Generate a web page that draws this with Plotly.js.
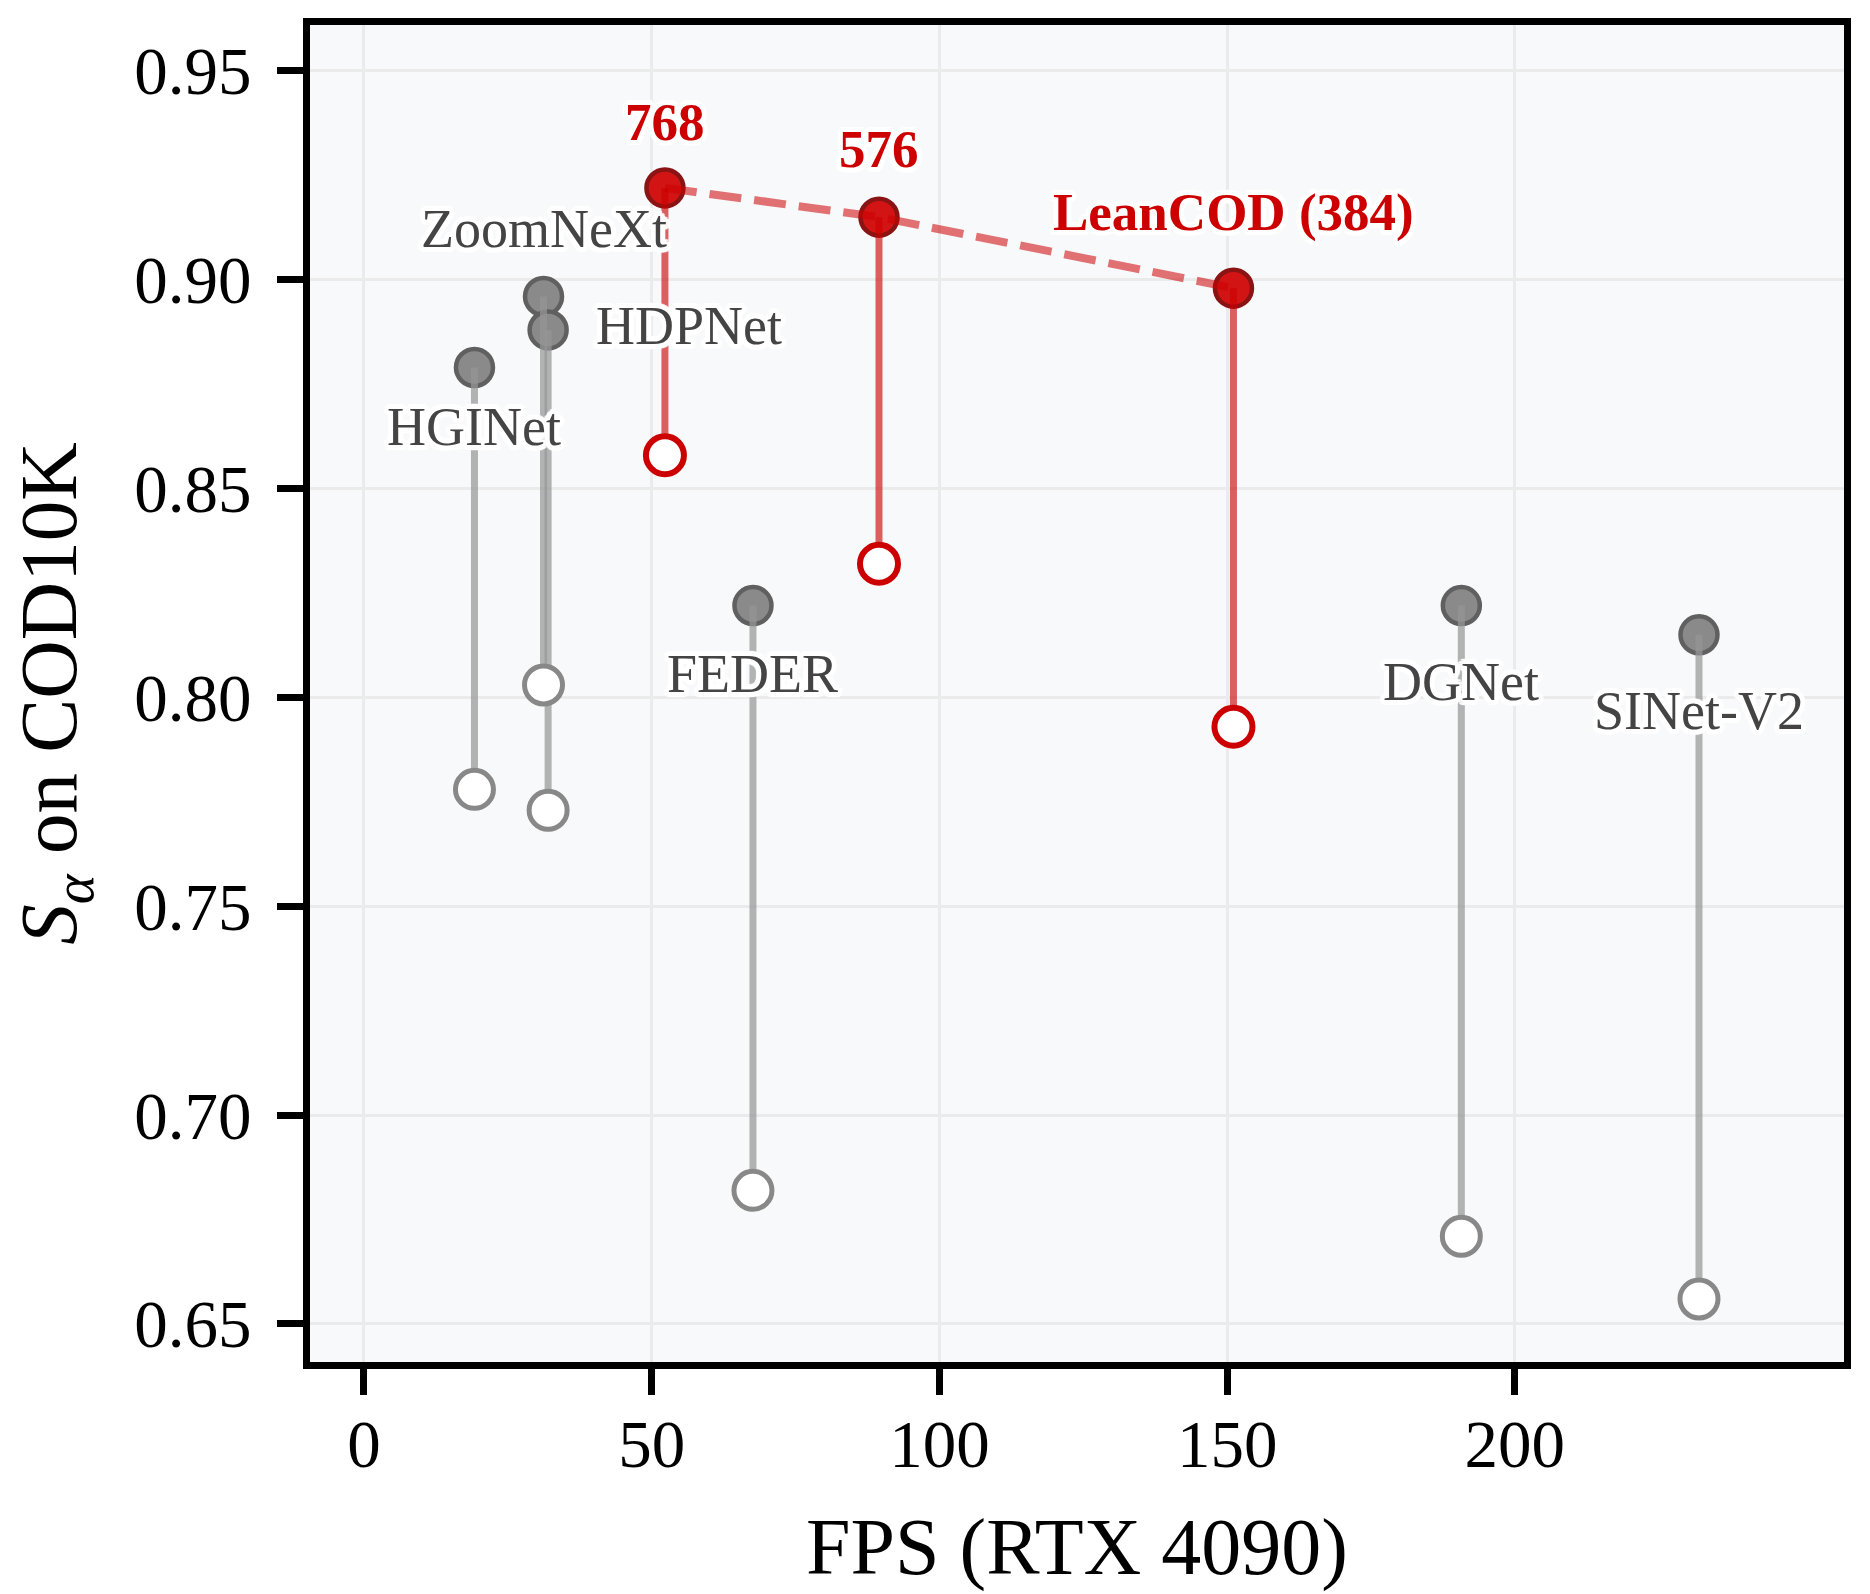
<!DOCTYPE html>
<html>
<head>
<meta charset="utf-8">
<script src="https://cdn.plot.ly/plotly-3.0.1.min.js"></script>
<style>
  html, body { margin: 0; padding: 0; background: #fff; }
  #chart { width: 1870px; height: 1594px; }
</style>
</head>
<body>
<div id="chart"></div>
<script>
// other methods: FPS and the two S-alpha scores (filled = high, hollow = low)
const methods = ["HGINet", "ZoomNeXt", "HDPNet", "FEDER", "DGNet", "SINet-V2"];
const methodFps = [19.2, 31.2, 32.0, 67.6, 190.7, 232.0];
const methodHigh = [0.879, 0.896, 0.888, 0.822, 0.822, 0.815];
const methodLow = [0.778, 0.803, 0.773, 0.682, 0.671, 0.656];

// LeanCOD at three input resolutions
const oursRes = ["768", "576", "384"];
const oursFps = [52.3, 89.5, 151.1];
const oursHigh = [0.922, 0.915, 0.898];
const oursLow = [0.858, 0.832, 0.793];

const xTicks = [0, 50, 100, 150, 200];
const yTicks = [0.65, 0.70, 0.75, 0.80, 0.85, 0.90, 0.95];

// label placement in pixels relative to the filled marker
const labelPos = {
  "HGINet": {dx: 0, dy: -59, anchor: "center"},
  "ZoomNeXt": {dx: 0, dy: 67, anchor: "center"},
  "HDPNet": {dx: 46, dy: 4, anchor: "left"},
  "FEDER": {dx: 0, dy: -68, anchor: "center"},
  "DGNet": {dx: 0, dy: -76, anchor: "center"},
  "SINet-V2": {dx: 0, dy: -76, anchor: "center"},
  "768": {dx: 0, dy: 66, anchor: "center"},
  "576": {dx: 0, dy: 68, anchor: "center"},
  "384": {dx: 0, dy: 76, anchor: "center"}
};

const FONT = "Liberation Serif, Times New Roman, serif";
const RED = "#cc0000";

// white halo round the labels
let halo = [];
for (let i = 0; i < 16; i++) {
  let a = i * Math.PI / 8;
  halo.push((5 * Math.cos(a)).toFixed(1) + "px " + (5 * Math.sin(a)).toFixed(1) + "px 1px #fff");
}
halo = halo.join(", ");

function stems(xs, lo, hi) {
  let x = [], y = [];
  for (let i = 0; i < xs.length; i++) {
    x.push(xs[i], xs[i], null);
    y.push(lo[i], hi[i], null);
  }
  return {x: x, y: y};
}

const grayStems = stems(methodFps, methodLow, methodHigh);
const redStems = stems(oursFps, oursLow, oursHigh);

let traces = [
  {
    x: methodFps, y: methodHigh, type: "scatter", mode: "markers",
    marker: {size: 37, color: "#8a8a8a", line: {color: "#606060", width: 4.5}},
    hoverinfo: "skip"
  },
  {
    x: oursFps, y: oursHigh, type: "scatter", mode: "markers",
    marker: {size: 37, color: "#d31414", line: {color: "#8a1414", width: 4.5}},
    hoverinfo: "skip"
  },
  {
    x: grayStems.x, y: grayStems.y, type: "scatter", mode: "lines",
    line: {color: "rgba(150,150,150,0.72)", width: 7},
    hoverinfo: "skip"
  },
  {
    x: redStems.x, y: redStems.y, type: "scatter", mode: "lines",
    line: {color: "rgba(204,0,0,0.62)", width: 7},
    hoverinfo: "skip"
  },
  {
    x: oursFps, y: oursHigh, type: "scatter", mode: "lines",
    line: {color: "rgba(204,0,0,0.55)", width: 8, dash: "32px,13px"},
    hoverinfo: "skip"
  },
  {
    x: methodFps, y: methodLow, type: "scatter", mode: "markers",
    marker: {size: 38, color: "#ffffff", line: {color: "#888888", width: 5}},
    hoverinfo: "skip"
  },
  {
    x: oursFps, y: oursLow, type: "scatter", mode: "markers",
    marker: {size: 38, color: "#ffffff", line: {color: RED, width: 6}},
    hoverinfo: "skip"
  }
];

let annotations = [];
for (let i = 0; i < methods.length; i++) {
  let p = labelPos[methods[i]];
  annotations.push({
    x: methodFps[i], y: methodHigh[i], xref: "x", yref: "y",
    text: methods[i], showarrow: false,
    xanchor: p.anchor, yanchor: "middle", xshift: p.dx, yshift: p.dy,
    font: {family: FONT, size: 54, color: "#444444", shadow: halo}
  });
}
for (let i = 0; i < oursRes.length; i++) {
  let p = labelPos[oursRes[i]];
  let txt = i === oursRes.length - 1 ? "LeanCOD (" + oursRes[i] + ")" : oursRes[i];
  annotations.push({
    x: oursFps[i], y: oursHigh[i], xref: "x", yref: "y",
    text: "<b>" + txt + "</b>", showarrow: false,
    xanchor: p.anchor, yanchor: "middle", xshift: p.dx, yshift: p.dy,
    font: {family: FONT, size: 53, color: RED, shadow: halo}
  });
}

const axisCommon = {
  showline: true, mirror: true, linecolor: "#000", linewidth: 7,
  ticks: "outside", ticklen: 26, tickwidth: 7, tickcolor: "#000",
  showgrid: true, gridcolor: "#ebebeb", gridwidth: 3,
  zeroline: false,
  tickfont: {family: FONT, size: 67, color: "#000"}
};

let layout = {
  width: 1870, height: 1594,
  margin: {l: 310, r: 26, t: 25, b: 232},
  paper_bgcolor: "#ffffff",
  plot_bgcolor: "#f8f9fb",
  showlegend: false,
  xaxis: Object.assign({}, axisCommon, {
    range: [-9.38, 257.2],
    tickvals: xTicks, ticktext: xTicks.map(String),
    ticklabelstandoff: -8,
    title: {text: "FPS (RTX 4090)", font: {family: FONT, size: 80, color: "#000"}, standoff: 40}
  }),
  yaxis: Object.assign({}, axisCommon, {
    range: [0.6409, 0.9610],
    tickvals: yTicks, ticktext: yTicks.map(v => v.toFixed(2)),
    ticklabelstandoff: 12,
    title: {text: "<i>S</i><sub><i>α</i></sub> on COD10K", font: {family: FONT, size: 81, color: "#000"}, standoff: 33}
  }),
  annotations: annotations
};

Plotly.newPlot("chart", traces, layout, {staticPlot: true});
</script>
</body>
</html>
